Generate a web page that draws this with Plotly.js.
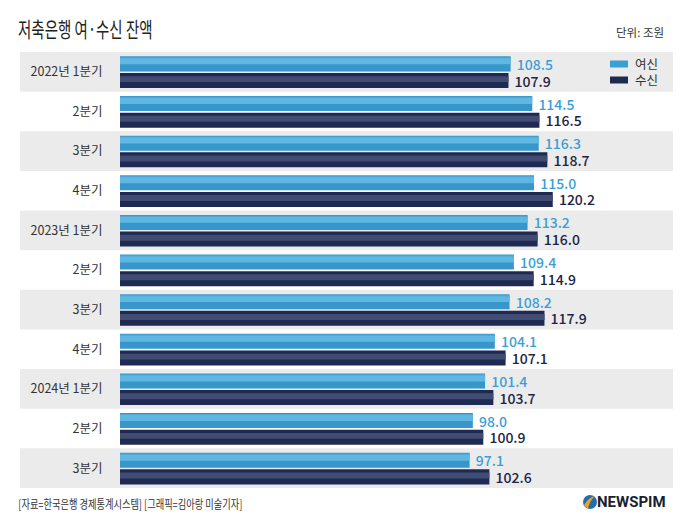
<!DOCTYPE html>
<html><head><meta charset="utf-8">
<script src="https://cdn.plot.ly/plotly-3.0.1.min.js"></script>
<style>html,body{margin:0;padding:0;background:#fff}#chart{width:680px;height:524px}</style>
</head><body><div id="chart"></div>
<script>
const quarterKeys = ['2022-1','2022-2','2022-3','2022-4','2023-1','2023-2','2023-3','2023-4','2024-1','2024-2','2024-3'];
const quarterLabels = ['2022년 1분기','2분기','3분기','4분기','2023년 1분기','2분기','3분기','4분기','2024년 1분기','2분기','3분기'];
const yeosin = [108.5,114.5,116.3,115.0,113.2,109.4,108.2,104.1,101.4,98.0,97.1];
const susin  = [107.9,116.5,118.7,120.2,116.0,114.9,117.9,107.1,103.7,100.9,102.6];
const seriesNames = ['여신','수신'];

const FONT = '"Noto Sans CJK KR", "Noto Sans", sans-serif';
const BLUE = '#3797cb', BLUE_HI = '#5fb7e2', BLUE_TOP = '#4aa7d8';
const NAVY = '#1f2a52', NAVY_HI = '#414c72';
const BLUE_TXT = '#3a9fd6', NAVY_TXT = '#1d2444';

// plot area in pixels
const L = 120, R = 673, T = 52, B = 488;
const px = x => (x - L) / (R - L);
const py = y => (B - y) / (B - T);

const fmt = a => a.map(v => '\u00a0' + v.toFixed(1));
const BW = 0.379, OFF_BLUE = -0.39, OFF_NAVY = 0.03;

const base = {type:'bar', orientation:'h', y:quarterKeys, hoverinfo:'skip', showlegend:false, cliponaxis:false};
const traces = [
  Object.assign({}, base, {name:seriesNames[0], x:yeosin, offset:OFF_BLUE, width:BW,
    marker:{color:BLUE, line:{width:0}}, text:fmt(yeosin), textposition:'outside', constraintext:'none',
    textfont:{family:FONT, size:14, color:BLUE_TXT, weight:500}}),
  Object.assign({}, base, {name:seriesNames[0] + ' 하이라이트', x:yeosin, offset:OFF_BLUE + 0.02, width:0.06,
    marker:{color:BLUE_TOP, line:{width:0}}}),
  Object.assign({}, base, {name:seriesNames[0] + ' 하이라이트2', x:yeosin, offset:OFF_BLUE + 0.05, width:0.15,
    marker:{color:BLUE_HI, line:{width:0}}}),
  Object.assign({}, base, {name:seriesNames[1], x:susin, offset:OFF_NAVY, width:BW,
    marker:{color:NAVY, line:{width:0}}, text:fmt(susin), textposition:'outside', constraintext:'none',
    textfont:{family:FONT, size:14, color:NAVY_TXT, weight:500}}),
  Object.assign({}, base, {name:seriesNames[1] + ' 하이라이트', x:susin, offset:OFF_NAVY + 0.08, width:0.15,
    marker:{color:NAVY_HI, line:{width:0}}})
];

const shapes = [];
for (let i = 0; i < quarterKeys.length; i += 2) {
  shapes.push({type:'rect', layer:'below', xref:'paper', yref:'y', x0:px(20), x1:1, y0:i-0.5, y1:i+0.5,
    fillcolor:'#ebebeb', line:{width:0}});
}
// custom legend swatches
shapes.push({type:'rect', xref:'paper', yref:'paper', x0:px(610), x1:px(628), y0:py(60.5), y1:py(67.5), fillcolor:'#3a9fd3', line:{width:0}});
shapes.push({type:'rect', xref:'paper', yref:'paper', x0:px(610), x1:px(628), y0:py(76.5), y1:py(83.5), fillcolor:'#1f2a52', line:{width:0}});
// logo mark
shapes.push({type:'circle', xref:'paper', yref:'paper', x0:px(583), x1:px(597), y0:py(495), y1:py(509),
  fillcolor:'#1f6db3', line:{width:0}});
shapes.push({type:'path', xref:'paper', yref:'paper',
  path:`M ${px(584)} ${py(505)} Q ${px(589)} ${py(497)} ${px(595)} ${py(496)} Q ${px(590)} ${py(500)} ${px(588)} ${py(508.5)} Q ${px(585.5)} ${py(507.5)} ${px(584)} ${py(505)} Z`,
  fillcolor:'#f0a020', line:{width:0}});

const layout = {
  width:680, height:524,
  margin:{l:L, r:680-R, t:T, b:524-B},
  paper_bgcolor:'#fff', plot_bgcolor:'rgba(0,0,0,0)',
  barmode:'overlay',
  showlegend:false,
  font:{family:FONT},
  xaxis:{range:[0,153.6], visible:false, fixedrange:true},
  yaxis:{type:'category', autorange:'reversed', tickvals:quarterKeys, ticktext:quarterLabels,
    ticks:'outside', ticklen:14, tickcolor:'rgba(0,0,0,0)', showgrid:false, zeroline:false, showline:false,
    tickfont:{family:FONT, size:12.5, color:'#333'}},
  shapes:shapes,
  annotations:[
    {xref:'paper', yref:'paper', x:px(16), y:py(28), xanchor:'left', yanchor:'middle', showarrow:false,
     text:'저축은행 여·수신 잔액', font:{family:FONT, size:21, color:'#222'}},
    {xref:'paper', yref:'paper', x:px(666), y:py(32), xanchor:'right', yanchor:'middle', showarrow:false,
     text:'단위: 조원', font:{family:FONT, size:11.5, color:'#333'}},
    {xref:'paper', yref:'paper', x:px(633), y:py(64), xanchor:'left', yanchor:'middle', showarrow:false,
     text:seriesNames[0], font:{family:FONT, size:12.5, color:'#333'}},
    {xref:'paper', yref:'paper', x:px(633), y:py(80), xanchor:'left', yanchor:'middle', showarrow:false,
     text:seriesNames[1], font:{family:FONT, size:12.5, color:'#333'}},
    {xref:'paper', yref:'paper', x:px(16), y:py(503), xanchor:'left', yanchor:'middle', showarrow:false,
     text:'[자료=한국은행 경제통계시스템] [그래픽=김아랑 미술기자]', font:{family:FONT, size:12, color:'#333'}},
    {xref:'paper', yref:'paper', x:px(668), y:py(502), xanchor:'right', yanchor:'middle', showarrow:false,
     text:'<b>NEWSPIM</b>', font:{family:'"Liberation Sans Narrow", "Roboto", sans-serif', size:15, color:'#1a1f33'}}
  ]
};

Plotly.newPlot('chart', traces, layout, {displayModeBar:false, staticPlot:true}).then(() => {
  const squeeze = {'저축은행 여·수신 잔액':0.69, '[자료=한국은행 경제통계시스템] [그래픽=김아랑 미술기자]':0.77};
  document.querySelectorAll('.annotation-text').forEach(t => {
    const s = squeeze[t.textContent];
    if (s) {
      t.style.transformBox = 'fill-box';
      t.style.transformOrigin = 'left center';
      t.style.transform = `scaleX(${s})`;
    }
  });
});
</script></body></html>
